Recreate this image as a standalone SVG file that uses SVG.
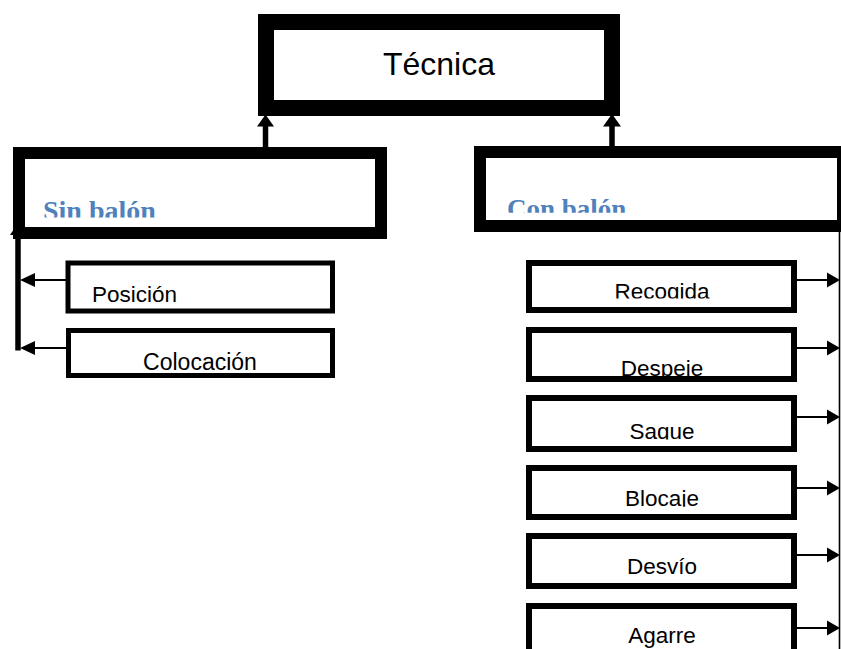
<svg xmlns="http://www.w3.org/2000/svg" width="841" height="649" viewBox="0 0 841 649">
<style>
.box{fill:#fff;stroke:#000}
.lbl{font-family:"Liberation Sans",Arial,sans-serif;font-size:22.5px;fill:#000;text-anchor:middle}
.hd{font-family:"Liberation Serif","Times New Roman",serif;font-weight:bold;font-size:28px;fill:#4F81BD}
.thin{stroke:#000;stroke-width:2;fill:none}
.thick{stroke:#000;stroke-width:5.5;fill:none}
</style>
<defs>
<clipPath id="cSin"><rect x="0" y="150" width="400" height="67.5"/></clipPath>
<clipPath id="cCon"><rect x="480" y="150" width="361" height="62.7"/></clipPath>
<clipPath id="cRec"><rect x="520" y="260" width="300" height="38.5"/></clipPath>
<clipPath id="cDes"><rect x="520" y="330" width="300" height="47.5"/></clipPath>
<clipPath id="cSag"><rect x="520" y="398" width="300" height="41.5"/></clipPath>
<clipPath id="cBlo"><rect x="520" y="468" width="300" height="38.8"/></clipPath>
</defs>
<rect width="841" height="649" fill="#fff"/>
<g id="connectors">
<line class="thick" x1="265.5" y1="160" x2="265.5" y2="124"/>
<polygon points="257,126.5 274,126.5 265.5,114.5"/>
<line class="thick" x1="612" y1="158" x2="612" y2="124"/>
<polygon points="603,126.5 621,126.5 612,114"/>
<line class="thick" x1="18" y1="350.5" x2="18" y2="232"/>
<polygon points="10,235 26,235 18,223"/>
<line class="thin" x1="66" y1="280" x2="32" y2="280"/>
<polygon points="35,273 35,287 20,280"/>
<line class="thin" x1="66" y1="348" x2="32" y2="348"/>
<polygon points="35,341 35,355 20,348"/>
<line stroke="#000" stroke-width="1.6" x1="839.5" y1="232" x2="839.5" y2="649"/>
<g>
<line class="thin" x1="797" y1="280" x2="830" y2="280"/><polygon points="827,272.5 827,287.5 840,280"/>
<line class="thin" x1="797" y1="348" x2="830" y2="348"/><polygon points="827,340.5 827,355.5 840,348"/>
<line class="thin" x1="797" y1="417" x2="830" y2="417"/><polygon points="827,409.5 827,424.5 840,417"/>
<line class="thin" x1="797" y1="488" x2="830" y2="488"/><polygon points="827,480.5 827,495.5 840,488"/>
<line class="thin" x1="797" y1="555" x2="830" y2="555"/><polygon points="827,547.5 827,562.5 840,555"/>
<line class="thin" x1="797" y1="628" x2="830" y2="628"/><polygon points="827,620.5 827,635.5 840,628"/>
</g>
</g>
<g id="tecnica">
<rect class="box" x="266" y="22" width="346" height="86" stroke-width="16"/>
<text class="lbl" x="439" y="75" style="font-size:32px">Técnica</text>
</g>
<g id="sin-balon">
<rect class="box" x="19" y="153" width="362" height="80" stroke-width="12"/>
<text class="hd" x="43" y="220" clip-path="url(#cSin)">Sin balón</text>
</g>
<g id="con-balon">
<rect class="box" x="480" y="152" width="363" height="74" stroke-width="12"/>
<text class="hd" x="507" y="218" style="font-size:27px" clip-path="url(#cCon)">Con balón</text>
</g>
<g id="posicion">
<rect class="box" x="68" y="263" width="264.5" height="48" stroke-width="5"/>
<text class="lbl" x="92" y="301.5" style="text-anchor:start">Posición</text>
</g>
<g id="colocacion">
<rect class="box" x="68.5" y="330.5" width="264" height="45" stroke-width="5"/>
<text class="lbl" x="200" y="369.5" style="font-size:23px">Colocación</text>
</g>
<g id="recogida">
<rect class="box" x="529" y="263" width="265" height="47" stroke-width="6"/>
<text class="lbl" x="662" y="299" clip-path="url(#cRec)">Recogida</text>
</g>
<g id="despeje">
<rect class="box" x="529" y="330" width="265" height="49" stroke-width="6"/>
<text class="lbl" x="662" y="376" clip-path="url(#cDes)">Despeje</text>
</g>
<g id="saque">
<rect class="box" x="529" y="398" width="265" height="51" stroke-width="6"/>
<text class="lbl" x="662" y="439" clip-path="url(#cSag)">Saque</text>
</g>
<g id="blocaje">
<rect class="box" x="529" y="468" width="265" height="49" stroke-width="6"/>
<text class="lbl" x="662" y="506" clip-path="url(#cBlo)">Blocaje</text>
</g>
<g id="desvio">
<rect class="box" x="529" y="536" width="265" height="50" stroke-width="6"/>
<text class="lbl" x="662" y="574">Desvío</text>
</g>
<g id="agarre">
<rect class="box" x="529" y="606" width="265" height="60" stroke-width="6"/>
<text class="lbl" x="662" y="643">Agarre</text>
</g>
</svg>
